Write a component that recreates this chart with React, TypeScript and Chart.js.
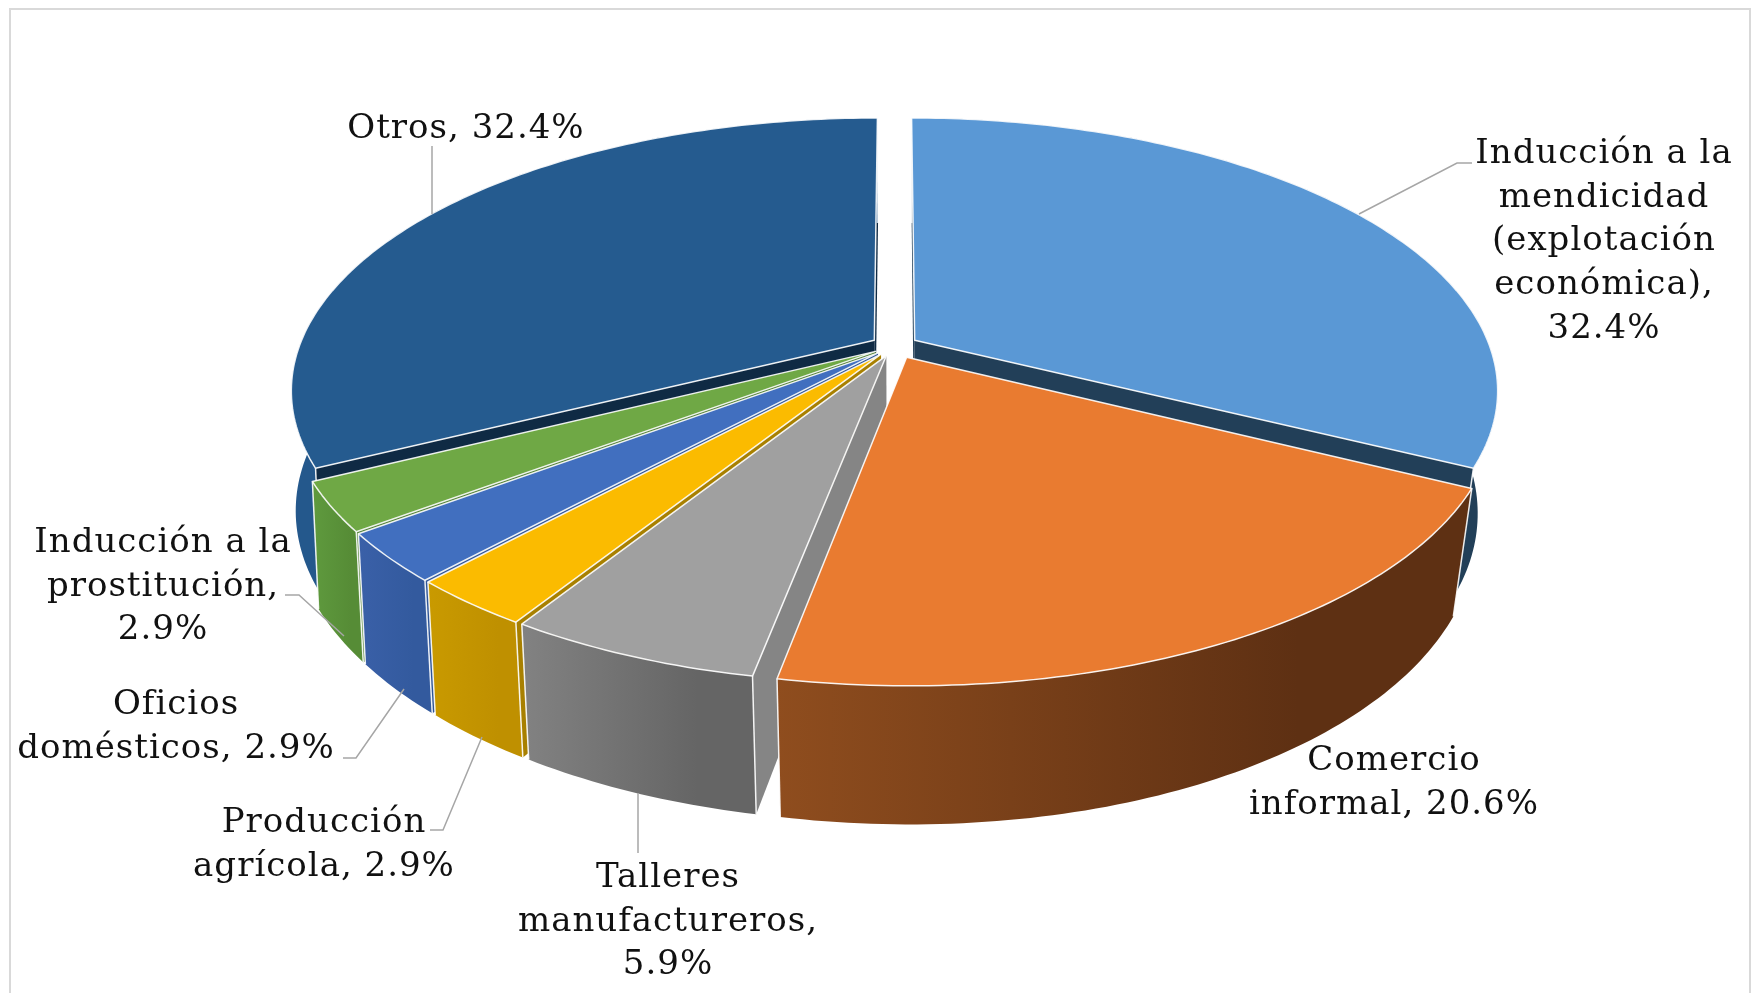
import React, { useEffect, useRef } from "react";
import { Chart, registerables } from "chart.js";

Chart.register(...registerables);

// ---- data ----
const categories = [
  "Inducción a la mendicidad (explotación económica)",
  "Comercio informal",
  "Talleres manufactureros",
  "Producción agrícola",
  "Oficios domésticos",
  "Inducción a la prostitución",
  "Otros",
];
const shares = [32.4, 20.6, 5.9, 2.9, 2.9, 2.9, 32.4];
const labelLines = [
  ["Inducción a la", "mendicidad", "(explotación", "económica),", "32.4%"],
  ["Comercio", "informal, 20.6%"],
  ["Talleres", "manufactureros,", "5.9%"],
  ["Producción", "agrícola, 2.9%"],
  ["Oficios", "domésticos, 2.9%"],
  ["Inducción a la", "prostitución,", "2.9%"],
  ["Otros, 32.4%"],
];

// ---- styles ----
const topColors = ["#5a98d5", "#e97b30", "#a0a0a0", "#fbbb00", "#416fbf", "#6fa845", "#255b8f"];
const wallFrom = ["#223f58", "#8f4d1e", "#828282", "#c99a00", "#3a60a8", "#5f9a3e", "#24588c"];
const wallTo = ["#223f58", "#5e3013", "#656565", "#bf9000", "#335a9e", "#568c36", "#24588c"];
const faceColors = ["#223f58", "#5c2f12", "#858585", "#a88000", "#2f5597", "#4f7f33", "#0f2a44"];
const sliceOffsets = [14, 16, 13, 13, 13, 13, 14];
const paintOrder = [6, 0, 5, 4, 3, 2, 1];

// ---- layout ----
const W = 1751;
const H = 993;
const RX = 575;
const RY = 264.5;
const PERSPECTIVE = 0.181;
const DEPTH_Y = 122;
const DEPTH_W = 0.02;
const DEPTH_SHEAR = 8;
const FONT = '34px "DejaVu Serif"';
const LETTER_SPACING = "1px";
const LINE_H = 43.7;
const labelAnchors = [
  [1604, 154],
  [1394, 761],
  [668, 878],
  [324, 823],
  [176, 705],
  [163, 543],
  [466, 129],
];
const leaders = [
  [[1472, 163], [1457, 163], [1359, 214]],
  [],
  [[638, 793], [638, 853]],
  [[430, 830], [443, 830], [482, 737]],
  [[343, 758], [356, 758], [404, 689]],
  [[285, 595], [299, 595], [344, 636]],
  [[432, 146], [432, 214]],
];

const pie3dPlugin = {
  id: "pie3d",
  beforeDatasetDraw(chart: any) {
    const ctx: CanvasRenderingContext2D = chart.ctx;
    const arcs = chart.getDatasetMeta(0).data;
    const cx = arcs[0].x;
    const cy = arcs[0].y;

    const project = (u: number, v: number, z: number, sheared = true) => {
      const w = 1 - PERSPECTIVE * v + DEPTH_W * z;
      const shear = sheared ? DEPTH_SHEAR * z * (1 - v * v) : 0;
      return [cx + (RX * u) / w - shear, cy + (RY * v + DEPTH_Y * z) / w];
    };
    const path = (pts: number[][]) => {
      ctx.beginPath();
      pts.forEach((p, i) => (i ? ctx.lineTo(p[0], p[1]) : ctx.moveTo(p[0], p[1])));
      ctx.closePath();
    };
    const area = (pts: number[][]) => {
      let s = 0;
      pts.forEach((p, i) => {
        const q = pts[(i + 1) % pts.length];
        s += p[0] * q[1] - q[0] * p[1];
      });
      return s / 2;
    };

    ctx.save();
    ctx.lineJoin = "round";
    paintOrder.forEach((i) => {
      const el = arcs[i];
      const a0 = el.startAngle;
      const a1 = el.endAngle;
      const mid = (a0 + a1) / 2;
      const off = el.options.offset / el.outerRadius;
      const ox = Math.cos(mid) * off;
      const oy = Math.sin(mid) * off;
      const n = Math.max(8, Math.ceil((a1 - a0) * 60));
      const rim = (z: number) => {
        const r: number[][] = [];
        for (let k = 0; k <= n; k++) {
          const a = a0 + ((a1 - a0) * k) / n;
          r.push(project(Math.cos(a) + ox, Math.sin(a) + oy, z));
        }
        return r;
      };
      const rim0 = rim(0);
      const rim1 = rim(1);
      const apex0 = project(ox, oy, 0);
      const apex1 = project(ox, oy, 1, false);

      // radial cut faces, only those turned to the viewer
      const startFace = [apex0, rim0[0], rim1[0], apex1];
      const endFace = [apex0, rim0[n], rim1[n], apex1];
      if (area(startFace) < 0) {
        path(startFace);
        ctx.fillStyle = faceColors[i];
        ctx.fill();
      }
      if (area(endFace) > 0) {
        path(endFace);
        ctx.fillStyle = faceColors[i];
        ctx.fill();
      }

      // outer wall
      const wall = rim0.concat(rim1.slice().reverse());
      const xs = wall.map((p) => p[0]);
      const minX = Math.min(...xs);
      const maxX = Math.max(...xs);
      const grad = ctx.createLinearGradient(minX, 0, minX + (maxX - minX) * 0.75, 0);
      grad.addColorStop(0, wallFrom[i]);
      grad.addColorStop(1, wallTo[i]);
      path(wall);
      ctx.fillStyle = grad;
      ctx.fill();

      ctx.strokeStyle = "rgba(255,255,255,0.9)";
      ctx.lineWidth = 1.5;
      [[rim0[0], rim1[0]], [rim0[n], rim1[n]]].forEach(([p, q]) => {
        ctx.beginPath();
        ctx.moveTo(p[0], p[1]);
        ctx.lineTo(q[0], q[1]);
        ctx.stroke();
      });

      // top surface
      path([apex0].concat(rim0));
      ctx.fillStyle = topColors[i];
      ctx.fill();
      ctx.stroke();
    });
    ctx.restore();
    return false;
  },
  afterDraw(chart: any) {
    const ctx: CanvasRenderingContext2D = chart.ctx;
    ctx.save();
    ctx.strokeStyle = "#a6a6a6";
    ctx.lineWidth = 1.5;
    leaders.forEach((pts) => {
      if (!pts.length) return;
      ctx.beginPath();
      pts.forEach((p, i) => (i ? ctx.lineTo(p[0], p[1]) : ctx.moveTo(p[0], p[1])));
      ctx.stroke();
    });
    ctx.font = FONT;
    (ctx as any).letterSpacing = LETTER_SPACING;
    ctx.fillStyle = "#111111";
    ctx.textAlign = "center";
    ctx.textBaseline = "middle";
    labelLines.forEach((lines, i) => {
      lines.forEach((line, j) => {
        ctx.fillText(line, labelAnchors[i][0], labelAnchors[i][1] + j * LINE_H);
      });
    });
    ctx.restore();
  },
};

export default function App() {
  const ref = useRef<HTMLCanvasElement>(null);
  useEffect(() => {
    document.body.style.margin = "0";
    const chart = new Chart(ref.current as HTMLCanvasElement, {
      type: "pie",
      data: {
        labels: categories,
        datasets: [
          {
            data: shares,
            backgroundColor: topColors,
            offset: sliceOffsets,
            borderWidth: 0,
          },
        ],
      },
      options: {
        responsive: false,
        animation: false,
        layout: { padding: { left: 38, bottom: 301 } },
        plugins: { legend: { display: false }, tooltip: { enabled: false } },
      },
      plugins: [pie3dPlugin],
    } as any);
    return () => chart.destroy();
  }, []);
  return (
    <div style={{ position: "relative", width: W, height: H, overflow: "hidden", background: "#fff" }}>
      <div
        style={{
          position: "absolute",
          left: 9,
          top: 8,
          width: 1738,
          height: 1010,
          border: "2px solid #d9d9d9",
        }}
      />
      <canvas ref={ref} width={W} height={H} style={{ position: "absolute", left: 0, top: 0, display: "block" }} />
    </div>
  );
}
